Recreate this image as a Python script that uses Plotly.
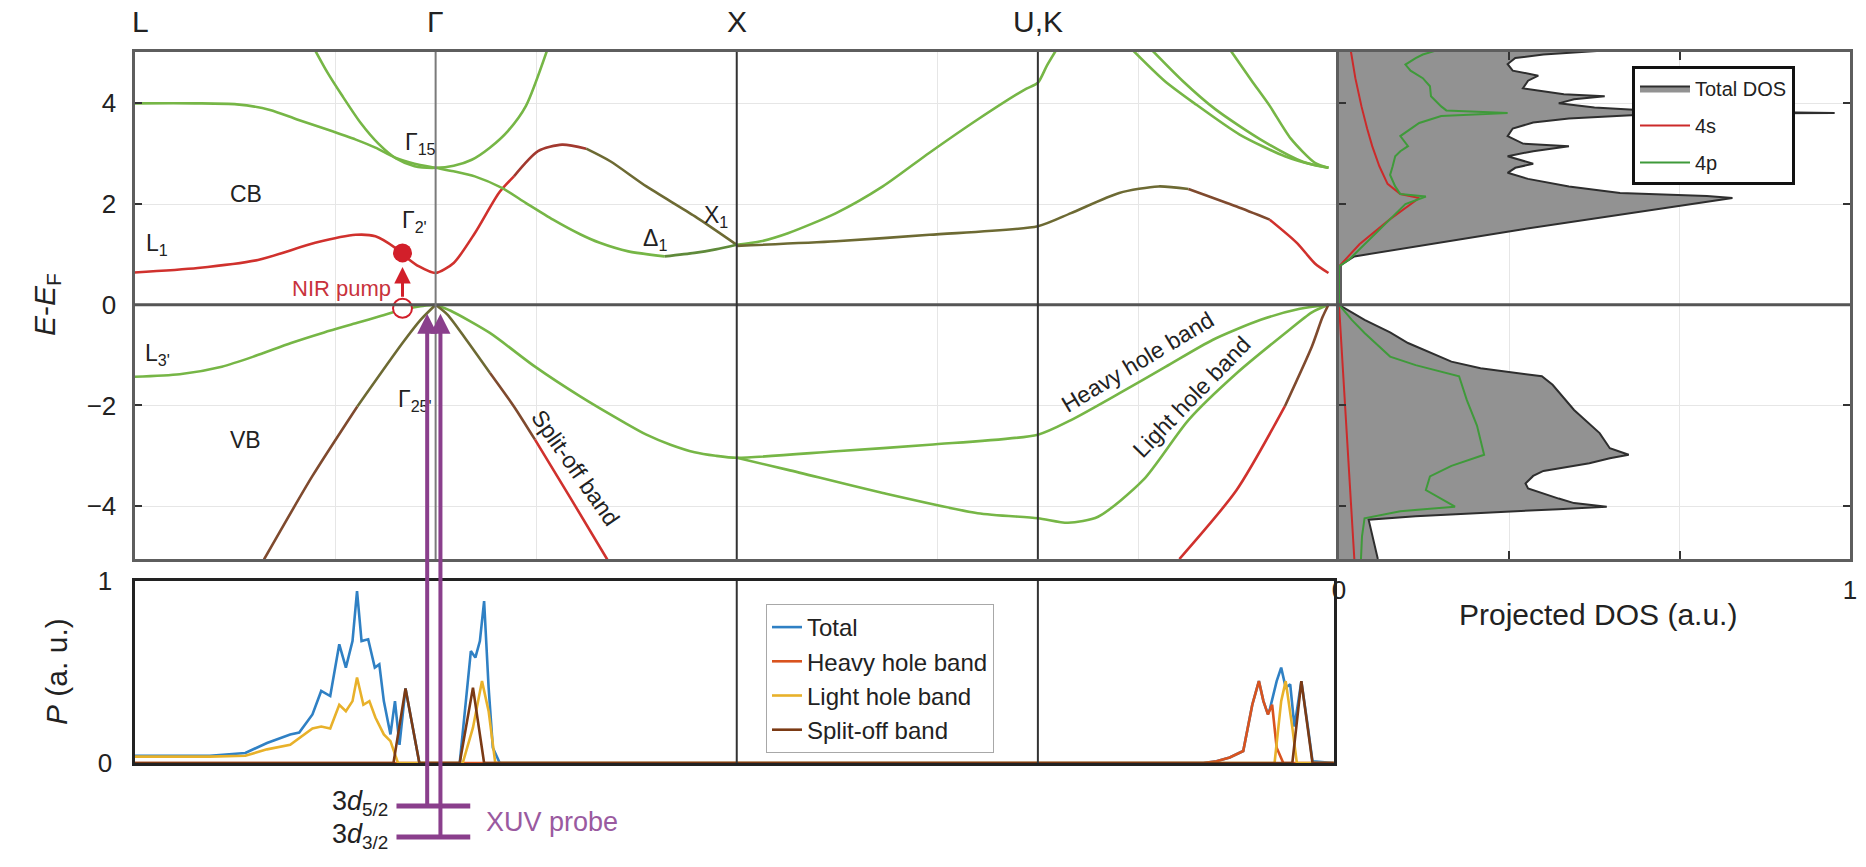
import numpy as np
import plotly.graph_objects as go

W, H = 1866, 867
FONT = "Liberation Sans, Arial, Helvetica, sans-serif"

# ---------------- data ----------------
K_POS = [0, 1, 2, 3, 4]
K_LABELS = ["L", "Γ", "X", "U,K", "Γ"]

# conduction bands (k along path, E-EF in eV)
CB1_K = [0, 0.21, 0.41, 0.60, 0.735, 0.80, 0.866, 0.905, 0.945, 1.0, 1.06, 1.13, 1.21, 1.26, 1.34, 1.42, 1.50, 1.58, 1.70, 1.86, 2.0]
CB1_E = [0.64, 0.73, 0.89, 1.23, 1.39, 1.36, 1.13, 0.93, 0.76, 0.63, 0.83, 1.42, 2.22, 2.55, 3.05, 3.18, 3.10, 2.85, 2.35, 1.76, 1.19]
CB2_K = [0, 0.2, 0.34, 0.45, 0.54, 0.64, 0.735, 0.80, 0.866, 0.93, 1.0, 1.06, 1.13, 1.22, 1.30, 1.39, 1.48, 1.545, 1.64, 1.76, 1.86, 1.93, 2.0]
CB2_E = [4.0, 4.0, 3.98, 3.87, 3.68, 3.48, 3.28, 3.12, 2.92, 2.80, 2.72, 2.65, 2.55, 2.32, 2.02, 1.69, 1.40, 1.23, 1.06, 0.96, 1.03, 1.10, 1.19]
CB3_K = [0.60, 0.64, 0.69, 0.75, 0.81, 0.87, 0.93, 1.0, 1.06, 1.12, 1.18, 1.24, 1.30, 1.37]
CB3_E = [5.05, 4.62, 4.15, 3.62, 3.20, 2.90, 2.75, 2.72, 2.76, 2.88, 3.12, 3.45, 3.95, 5.05]
CB4_K = [2.0, 2.08, 2.17, 2.33, 2.485, 2.64, 2.80, 2.955, 3.0, 3.03, 3.06]
CB4_E = [1.19, 1.26, 1.42, 1.82, 2.35, 3.02, 3.68, 4.27, 4.41, 4.75, 5.05]
CB5_K = [2.0, 2.33, 2.64, 3.0, 3.11, 3.27, 3.40, 3.50, 3.66, 3.77, 3.86, 3.92, 3.965]
CB5_E = [1.17, 1.26, 1.39, 1.56, 1.82, 2.22, 2.35, 2.30, 1.95, 1.69, 1.23, 0.82, 0.63]
CB6_K = [3.316, 3.42, 3.52, 3.67, 3.82, 3.92, 3.965]
CB6_E = [5.05, 4.45, 4.00, 3.38, 2.95, 2.77, 2.72]
CB7_K = [3.38, 3.48, 3.59, 3.74, 3.88, 3.965]
CB7_E = [5.05, 4.45, 3.88, 3.28, 2.84, 2.72]
CB8_K = [3.64, 3.71, 3.77, 3.84, 3.92, 3.965]
CB8_E = [5.05, 4.45, 3.95, 3.30, 2.82, 2.72]

# valence bands
VB1_K = [0, 0.15, 0.29, 0.40, 0.52, 0.63, 0.74, 0.82, 0.89, 0.95, 1.0]
VB1_E = [-1.43, -1.38, -1.23, -1.02, -0.76, -0.55, -0.36, -0.22, -0.10, -0.03, 0.0]
VB2_K = [0.43, 0.59, 0.74, 0.89, 0.95, 1.0]
VB2_E = [-5.06, -3.41, -2.02, -0.76, -0.30, 0.0]
VB3_K = [1.0, 1.05, 1.18, 1.33, 1.48, 1.63, 1.70, 1.78, 1.86, 1.93, 2.0, 2.33, 2.64, 3.0, 3.11, 3.27, 3.425, 3.58, 3.74, 3.87, 3.965]
VB3_E = [0.0, -0.12, -0.56, -1.23, -1.82, -2.35, -2.58, -2.78, -2.93, -3.0, -3.04, -2.91, -2.78, -2.58, -2.29, -1.76, -1.23, -0.70, -0.30, -0.08, 0.0]
VB4_K = [2.0, 2.17, 2.485, 2.80, 3.0, 3.10, 3.2, 3.35, 3.50, 3.66, 3.82, 3.91, 3.965]
VB4_E = [-3.04, -3.28, -3.74, -4.14, -4.24, -4.33, -4.21, -3.48, -2.29, -1.36, -0.57, -0.15, 0.0]
VB5_K = [1.0, 1.04, 1.10, 1.18, 1.26, 1.33, 1.45, 1.57]
VB5_E = [0.0, -0.2, -0.68, -1.35, -2.02, -2.68, -3.86, -5.06]
VB6_K = [3.47, 3.66, 3.82, 3.91, 3.945, 3.965]
VB6_E = [-5.05, -3.68, -2.02, -0.83, -0.25, 0.0]

# projected DOS
DOS_E = [-5.05, -4.7, -4.4, -4.27, -4.2, -4.11, -4.06, -4.01, -3.94, -3.85, -3.71, -3.65, -3.55, -3.4, -3.3, -3.15, -3.05, -2.98, -2.85, -2.55,
         -2.09, -1.85, -1.59, -1.42, -1.26, -1.13, -1.0, -0.76, -0.55, -0.3, 0.0, 0.76, 0.83, 0.96, 1.5, 2.12, 2.16, 2.22, 2.35, 2.5,
         2.62, 2.72, 2.8, 2.95, 3.05, 3.15, 3.2, 3.35, 3.5, 3.62, 3.7, 3.78, 3.81, 3.85, 3.92, 4.0, 4.08, 4.14, 4.18, 4.3,
         4.45, 4.55, 4.65, 4.78, 4.9, 4.97, 5.05]
DOS_TOTAL = [0.076, 0.068, 0.06, 0.058, 0.15, 0.347, 0.43, 0.524, 0.46, 0.43, 0.385, 0.37, 0.365, 0.38, 0.40, 0.49, 0.53, 0.567, 0.53, 0.51,
             0.46, 0.44, 0.418, 0.397, 0.277, 0.22, 0.19, 0.135, 0.10, 0.05, 0.0, 0.0, 0.01, 0.03, 0.36, 0.77, 0.72, 0.55, 0.45, 0.37,
             0.33, 0.345, 0.38, 0.33, 0.38, 0.45, 0.36, 0.33, 0.34, 0.38, 0.45, 0.6, 0.97, 0.62, 0.5, 0.43, 0.46, 0.52, 0.44, 0.36,
             0.37, 0.39, 0.34, 0.33, 0.345, 0.4, 0.52]
DOS_4P_E = [-5.05, -4.6, -4.24, -4.1, -4.01, -3.85, -3.68, -3.41, -3.2, -2.98, -2.4, -1.89, -1.6, -1.42, -1.2, -1.03, -0.56, -0.3, 0.0, 0.76,
            0.9, 1.5, 2.0, 2.15, 2.2, 2.35, 2.58, 2.75, 2.95, 3.05, 3.15, 3.35, 3.5, 3.61, 3.75, 3.81, 3.86, 3.94, 4.14, 4.34,
            4.5, 4.65, 4.77, 4.9, 4.97, 5.05]
DOS_4P = [0.043, 0.045, 0.05, 0.12, 0.227, 0.2, 0.17, 0.178, 0.22, 0.284, 0.27, 0.25, 0.24, 0.235, 0.15, 0.10, 0.05, 0.025, 0.0, 0.0,
          0.02, 0.08, 0.13, 0.17, 0.12, 0.11, 0.10, 0.105, 0.11, 0.12, 0.135, 0.12, 0.14, 0.157, 0.2, 0.33, 0.21, 0.2, 0.18, 0.178,
          0.164, 0.14, 0.13, 0.15, 0.164, 0.19]
DOS_4S_E = [-5.05, -2.5, 0.0, 0.76, 1.2, 1.7, 2.0, 2.12, 2.2, 2.4, 2.75, 3.15, 3.5, 3.94, 4.5, 5.05]
DOS_4S = [0.03, 0.015, 0.0, 0.0, 0.04, 0.1, 0.14, 0.157, 0.12, 0.095, 0.079, 0.065, 0.055, 0.044, 0.032, 0.023]

# transition probability P(k)
P_K_TOTAL = [0, 0.25, 0.368, 0.44, 0.517, 0.547, 0.591, 0.62, 0.65, 0.68, 0.702, 0.724, 0.739, 0.754, 0.776, 0.798, 0.813, 0.828, 0.85, 0.865,
             0.88, 0.90, 0.946, 1.08, 1.117, 1.132, 1.147, 1.161, 1.176, 1.19, 1.213, 3.55, 3.593, 3.637, 3.682, 3.712, 3.734, 3.749, 3.764, 3.771,
             3.793, 3.808, 3.823, 3.838, 3.852, 3.875, 3.897, 3.912, 3.983]
P_TOTAL = [0.04, 0.04, 0.055, 0.11, 0.157, 0.167, 0.267, 0.396, 0.368, 0.652, 0.524, 0.67, 0.945, 0.67, 0.68, 0.524, 0.542, 0.34, 0.157, 0.34,
           0.1, 0.41, 0.0, 0.0, 0.615, 0.579, 0.67, 0.89, 0.414, 0.084, 0.0, 0.0, 0.01, 0.03, 0.066, 0.32, 0.45, 0.34, 0.267, 0.3,
           0.45, 0.524, 0.414, 0.432, 0.2, 0.45, 0.194, 0.01, 0.0]
P_K_HEAVY = [0, 3.55, 3.593, 3.637, 3.682, 3.712, 3.734, 3.749, 3.764, 3.778, 3.793, 3.815, 3.983]
P_HEAVY = [0, 0, 0.01, 0.03, 0.066, 0.32, 0.45, 0.34, 0.267, 0.32, 0.084, 0.0, 0]
P_K_LIGHT = [0, 0.25, 0.368, 0.44, 0.517, 0.591, 0.62, 0.65, 0.68, 0.702, 0.724, 0.739, 0.76, 0.78, 0.80, 0.828, 0.85, 0.875, 1.09, 1.124,
             1.154, 1.176, 1.198, 3.786, 3.808, 3.823, 3.845, 3.86, 3.983]
P_LIGHT = [0.035, 0.035, 0.04, 0.075, 0.1, 0.19, 0.2, 0.19, 0.32, 0.285, 0.34, 0.47, 0.32, 0.34, 0.25, 0.157, 0.12, 0.0, 0.0, 0.194,
           0.45, 0.285, 0.0, 0.0, 0.34, 0.45, 0.194, 0.0, 0.0]
P_K_SPLIT = [0, 0.86, 0.90, 0.946, 1.08, 1.124, 1.161, 3.845, 3.875, 3.897, 3.912, 3.983]
P_SPLIT = [0, 0, 0.41, 0, 0, 0.414, 0, 0, 0.45, 0.194, 0, 0]

# pump / probe markers
NIR_K = 0.89
NIR_E_EXC = 1.03
NIR_E_GS = -0.07
XUV_K = [0.972, 1.016]
XUV_TIP_E = -0.18

# ---------------- styling / layout ----------------
GREEN = "#76b646"
OLIVEGREEN = "#5f8a3a"
OLIVE = "#6d6a33"
BROWN = "#7f4a2e"
REDBROWN = "#a2392f"
RED = "#d0312d"
PURPLE = "#8a3f8c"
NIRRED = "#d21f2a"

E_RANGE = [-5.05, 5.02]
X_BAND = [134.5 / W, 1339 / W]
X_DOS = [1339 / W, 1850 / W]
X_P = [134.5 / W, 1334 / W]
P_XMAX = 4 * (1334 - 134.5) / (1339 - 134.5)
Y_TOP = [1 - 559 / H, 1 - 52 / H]
Y_P = [1 - 763 / H, 1 - 581 / H]


def y_pix_top(E):
    frac = (E - E_RANGE[0]) / (E_RANGE[1] - E_RANGE[0])
    paper = Y_TOP[0] + frac * (Y_TOP[1] - Y_TOP[0])
    return (1 - paper) * H


fig = go.Figure()

bands = [
    (CB1_K, CB1_E, [(0, RED), (1.26, REDBROWN), (1.5, OLIVE)]),
    (CB2_K, CB2_E, [(0, GREEN), (1.76, OLIVEGREEN)]),
    (CB3_K, CB3_E, [(0, GREEN)]),
    (CB4_K, CB4_E, [(0, GREEN)]),
    (CB5_K, CB5_E, [(0, OLIVE), (3.5, BROWN), (3.77, RED)]),
    (CB6_K, CB6_E, [(0, GREEN)]),
    (CB7_K, CB7_E, [(0, GREEN)]),
    (CB8_K, CB8_E, [(0, GREEN)]),
    (VB1_K, VB1_E, [(0, GREEN)]),
    (VB2_K, VB2_E, [(0, BROWN), (0.74, OLIVE)]),
    (VB3_K, VB3_E, [(0, GREEN)]),
    (VB4_K, VB4_E, [(0, GREEN)]),
    (VB5_K, VB5_E, [(0, OLIVE), (1.18, BROWN), (1.33, RED)]),
    (VB6_K, VB6_E, [(0, RED), (3.82, BROWN)]),
]

for ks, es, breaks in bands:
    idx = []
    for kb, col in breaks:
        i0 = next(i for i, kv in enumerate(ks) if kv >= kb)
        idx.append((i0, col))
    for j, (i0, col) in enumerate(idx):
        i1 = idx[j + 1][0] if j + 1 < len(idx) else len(ks) - 1
        fig.add_trace(go.Scatter(
            x=ks[i0:i1 + 1], y=es[i0:i1 + 1], mode="lines",
            line=dict(color=col, width=2.6, shape="spline", smoothing=0.7),
            xaxis="x", yaxis="y", showlegend=False, hoverinfo="skip"))

# NIR pump markers
fig.add_trace(go.Scatter(x=[NIR_K], y=[NIR_E_GS], mode="markers",
                         marker=dict(size=19, color="white", line=dict(color=NIRRED, width=2)),
                         xaxis="x", yaxis="y", showlegend=False, hoverinfo="skip"))
fig.add_trace(go.Scatter(x=[NIR_K], y=[NIR_E_EXC], mode="markers",
                         marker=dict(size=19, color=NIRRED),
                         xaxis="x", yaxis="y", showlegend=False, hoverinfo="skip"))

# DOS
fig.add_trace(go.Scatter(x=DOS_TOTAL, y=DOS_E, mode="lines", fill="tozerox",
                         fillcolor="#929292", line=dict(color="#2e2e2e", width=2),
                         name="Total DOS", xaxis="x2", yaxis="y2", legend="legend2", legendgroup="a"))
fig.add_trace(go.Scatter(x=DOS_4S, y=DOS_4S_E, mode="lines", line=dict(color="#cc2a2a", width=2),
                         name="4s", xaxis="x2", yaxis="y2", legend="legend2", legendgroup="b"))
fig.add_trace(go.Scatter(x=DOS_4P, y=DOS_4P_E, mode="lines", line=dict(color="#3f9a3a", width=2),
                         name="4p", xaxis="x2", yaxis="y2", legend="legend2", legendgroup="c"))

# transition probability
for kk, pp, nm, col in [(P_K_TOTAL, P_TOTAL, "Total", "#2f80c4"),
                        (P_K_HEAVY, P_HEAVY, "Heavy hole band", "#d9531e"),
                        (P_K_LIGHT, P_LIGHT, "Light hole band", "#e8b12a"),
                        (P_K_SPLIT, P_SPLIT, "Split-off band", "#7b3a14")]:
    fig.add_trace(go.Scatter(x=kk, y=pp, mode="lines", name=nm,
                             line=dict(color=col, width=2.6),
                             xaxis="x3", yaxis="y3", legend="legend"))

GRID = "#e6e6e6"
AXL = "#5e5e5e"

fig.update_layout(
    width=W, height=H, autosize=False,
    margin=dict(l=0, r=0, t=0, b=0, pad=0, autoexpand=False),
    paper_bgcolor="white", plot_bgcolor="white",
    font=dict(family=FONT, color="#222", size=22),
    xaxis=dict(domain=X_BAND, range=[0, 4], anchor="y",
               tickvals=[i * 2 / 3 for i in range(7)], showticklabels=False, ticks="",
               showgrid=True, gridcolor=GRID, gridwidth=1, zeroline=False,
               showline=True, mirror=True, linecolor=AXL, linewidth=3),
    yaxis=dict(domain=Y_TOP, range=E_RANGE, anchor="x",
               tickvals=[-4, -2, 0, 2, 4], ticks="inside", ticklen=7, tickwidth=2, tickcolor="#333",
               tickfont=dict(size=26), ticklabelstandoff=10,
               showgrid=True, gridcolor=GRID, zeroline=False,
               showline=True, mirror=True, linecolor=AXL, linewidth=3),
    xaxis2=dict(domain=X_DOS, range=[0, 1], anchor="y2",
                tickvals=[0, 1 / 3, 2 / 3, 1], ticktext=["0", "", "", "1"],
                ticks="inside", ticklen=8, tickwidth=2, tickcolor="#333",
                tickfont=dict(size=26), ticklabelstandoff=6,
                showgrid=True, gridcolor=GRID, zeroline=False,
                showline=True, mirror="ticks", linecolor=AXL, linewidth=3),
    yaxis2=dict(domain=Y_TOP, range=E_RANGE, anchor="x2", matches="y",
                tickvals=[-4, -2, 0, 2, 4], showticklabels=False,
                ticks="inside", ticklen=7, tickwidth=2, tickcolor="#333",
                showgrid=True, gridcolor=GRID, zeroline=False,
                showline=True, mirror="ticks", linecolor=AXL, linewidth=3),
    xaxis3=dict(domain=X_P, range=[0, P_XMAX], anchor="y3",
                showticklabels=False, ticks="", showgrid=False, zeroline=False,
                showline=True, mirror=True, linecolor="#222", linewidth=3),
    yaxis3=dict(domain=Y_P, range=[0, 1], anchor="x3",
                tickvals=[0, 1], ticks="", tickfont=dict(size=26), ticklabelstandoff=14,
                showgrid=False, zeroline=False,
                showline=True, mirror=True, linecolor="#222", linewidth=3),
    legend=dict(x=766 / W, y=1 - 604 / H, xanchor="left", yanchor="top",
                bgcolor="white", bordercolor="#a8a8a8", borderwidth=1,
                font=dict(size=24, family=FONT), itemwidth=30, tracegroupgap=0),
    legend2=dict(x=1632 / W, y=1 - 66 / H, xanchor="left", yanchor="top",
                 bgcolor="white", bordercolor="#111", borderwidth=3,
                 font=dict(size=20, family=FONT), itemwidth=50, tracegroupgap=8),
)

shapes = []
# zero-energy line across band + DOS panels
shapes.append(dict(type="line", xref="paper", yref="y", x0=X_BAND[0], x1=X_DOS[1], y0=0, y1=0,
                   line=dict(color="#555", width=3)))
# high-symmetry lines
shapes.append(dict(type="line", xref="x", yref="y domain", x0=1, x1=1, y0=0, y1=1,
                   line=dict(color="#7a7a7a", width=2)))
for kx in [2, 3]:
    shapes.append(dict(type="line", xref="x", yref="y domain", x0=kx, x1=kx, y0=0, y1=1,
                       line=dict(color="#333", width=2)))
    shapes.append(dict(type="line", xref="x3", yref="y3 domain", x0=kx, x1=kx, y0=0, y1=1,
                       line=dict(color="#333", width=2)))
# core levels
LEVEL_PIX = [806, 837]
for lp in LEVEL_PIX:
    shapes.append(dict(type="line", xref="x", yref="paper", x0=K_POS[1] - 0.13, x1=K_POS[1] + 0.115,
                       y0=1 - lp / H, y1=1 - lp / H, line=dict(color=PURPLE, width=5)))
fig.update_layout(shapes=shapes)

ann = []
for kp, lab in zip(K_POS, K_LABELS):
    ann.append(dict(x=kp + (0.02 if kp in (0, 4) else 0), y=1 - 22 / H, xref="x", yref="paper",
                    xanchor="center", yanchor="middle",
                    text=lab, showarrow=False, font=dict(size=30)))

band_labels = [
    (0.37, 2.19, "CB"), (0.37, -2.68, "VB"),
    (0.95, 3.2, "Γ<sub>15</sub>"), (0.93, 1.65, "Γ<sub>2'</sub>"),
    (0.075, 1.2, "L<sub>1</sub>"), (0.075, -0.98, "L<sub>3'</sub>"),
    (0.93, -1.9, "Γ<sub>25'</sub>"),
    (1.93, 1.75, "X<sub>1</sub>"), (1.73, 1.3, "Δ<sub>1</sub>"),
]
for kx, ey, t in band_labels:
    ann.append(dict(x=kx, y=ey, xref="x", yref="y", text=t, showarrow=False, font=dict(size=23)))

ann.append(dict(x=1.465, y=-3.24, xref="x", yref="y", text="Split-off band", textangle=55,
                showarrow=False, font=dict(size=23)))
ann.append(dict(x=3.33, y=-1.13, xref="x", yref="y", text="Heavy hole band", textangle=-31,
                showarrow=False, font=dict(size=23)))
ann.append(dict(x=3.51, y=-1.83, xref="x", yref="y", text="Light hole band", textangle=-46,
                showarrow=False, font=dict(size=23)))

# NIR pump
ann.append(dict(x=NIR_K - 0.03, y=0.33, xref="x", yref="y", text="NIR pump", xanchor="right",
                showarrow=False, font=dict(size=22, color="#c8323c")))
ann.append(dict(x=NIR_K, y=NIR_E_EXC - 0.28, xref="x", yref="y", ax=NIR_K, ay=NIR_E_GS + 0.2,
                axref="x", ayref="y", text="", showarrow=True, arrowhead=2, arrowsize=1.1,
                arrowwidth=3, arrowcolor=NIRRED))

# XUV probe arrows
tip_pix = y_pix_top(XUV_TIP_E)
for kx, lp in zip(XUV_K, LEVEL_PIX):
    ann.append(dict(x=kx, y=XUV_TIP_E, xref="x", yref="y", ax=0, ay=lp - tip_pix,
                    text="", showarrow=True, arrowhead=2, arrowsize=1.0, arrowwidth=4,
                    arrowcolor=PURPLE))
ann.append(dict(x=390 / W, y=1 - 803 / H, xref="paper", yref="paper", xanchor="right", yanchor="middle",
                text="3<i>d</i><sub>5/2</sub>", showarrow=False, font=dict(size=27)))
ann.append(dict(x=390 / W, y=1 - 836 / H, xref="paper", yref="paper", xanchor="right", yanchor="middle",
                text="3<i>d</i><sub>3/2</sub>", showarrow=False, font=dict(size=27)))
ann.append(dict(x=484 / W, y=1 - 822 / H, xref="paper", yref="paper", xanchor="left", yanchor="middle",
                text="XUV probe", showarrow=False, font=dict(size=27, color="#9a5aa0")))

# axis titles
ann.append(dict(x=46 / W, y=1 - 305 / H, xref="paper", yref="paper", textangle=-90,
                xanchor="center", yanchor="middle",
                text="<i>E</i>-<i>E</i><sub>F</sub>", showarrow=False, font=dict(size=30)))
ann.append(dict(x=56 / W, y=1 - 672 / H, xref="paper", yref="paper", textangle=-90,
                xanchor="center", yanchor="middle",
                text="<i>P</i> (a. u.)", showarrow=False, font=dict(size=30)))
ann.append(dict(x=1598 / W, y=1 - 614 / H, xref="paper", yref="paper",
                xanchor="center", yanchor="middle",
                text="Projected DOS (a.u.)", showarrow=False, font=dict(size=30)))

fig.update_layout(annotations=ann)

fig.write_html("out.html", include_plotlyjs=True, config={"displayModeBar": False},
               post_script="document.body.style.margin='0';document.body.style.overflow='hidden';")
